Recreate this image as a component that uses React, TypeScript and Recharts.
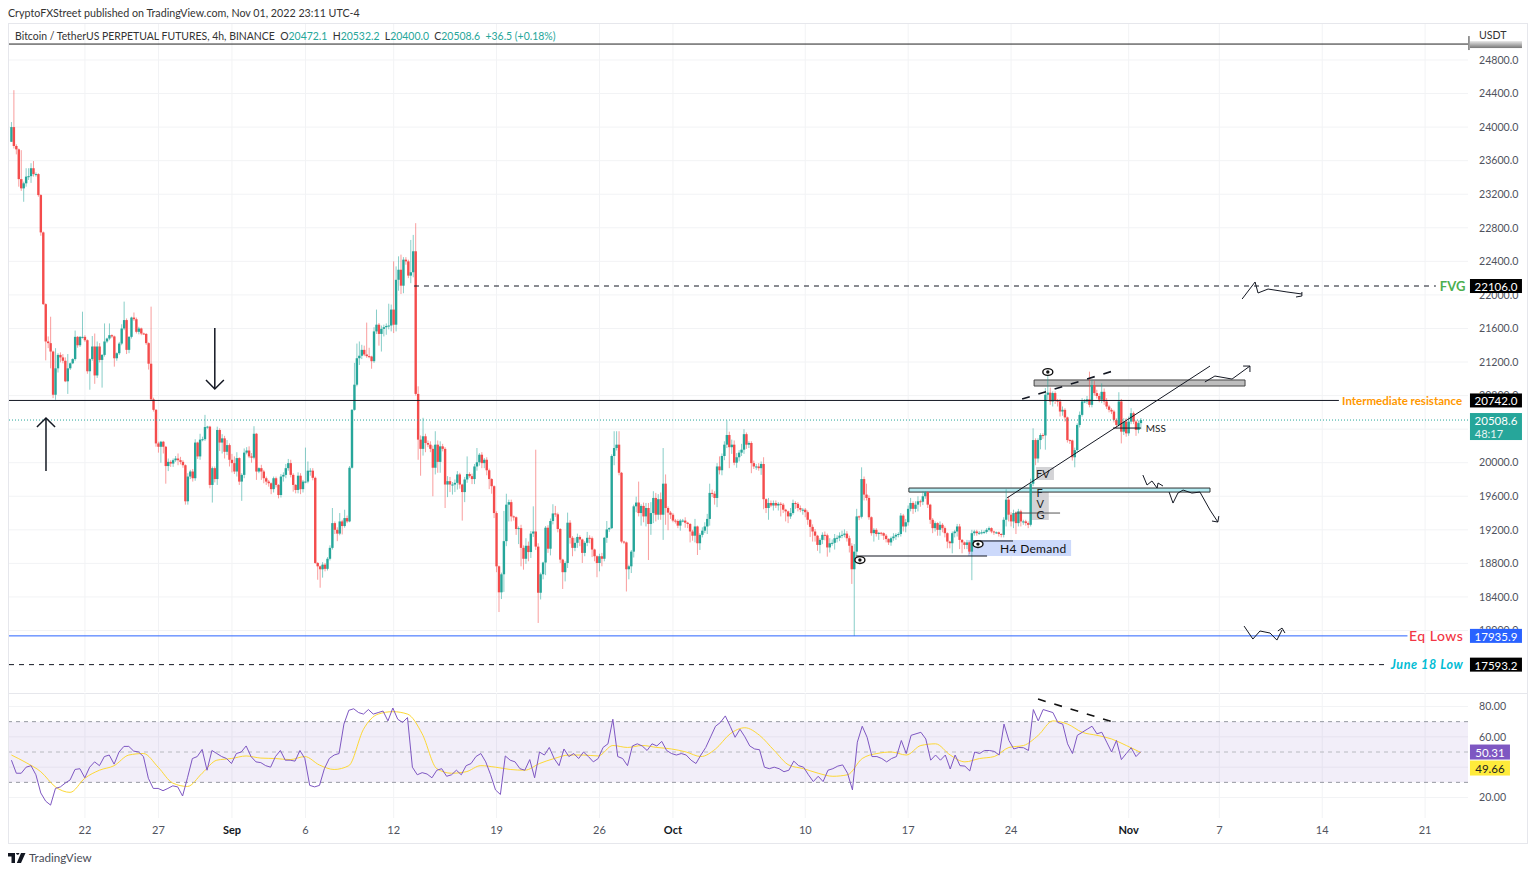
import React from "react";
import { ComposedChart, Bar, Line, XAxis, YAxis, CartesianGrid, ReferenceLine, ReferenceArea, ReferenceDot } from "recharts";

const FONT = "Lato, 'Open Sans', sans-serif";
const TEAL = "#26a69a";
const RED = "#f44c4c";
const GRID = "#f2f3f5";
const AXIS_TEXT = "#50535e";

const firstOpen = 23825;
const closes = [
  24000,23775,23735,23380,23270,23330,23410,23415,23510,23440,
  23440,23190,22745,21890,21445,21425,21325,20810,21125,21285,
  21255,21215,20970,21125,21185,21235,21500,21400,21500,21500,
  21460,21090,21235,21385,21040,21385,21225,21285,21445,21480,
  21520,21505,21245,21305,21420,21600,21700,21345,21500,21730,
  21710,21560,21600,21540,21535,21425,21180,20755,20630,20230,
  20190,20250,20190,19960,20010,19990,20030,20050,20030,20010,
  19970,19540,19835,19895,19815,20240,20075,20275,20280,20425,
  20430,19735,19935,19805,20390,20240,20290,20130,20210,20035,
  19995,19895,20055,19775,19855,20120,20145,20075,20060,20345,
  19895,19935,19895,19815,19775,19755,19685,19815,19735,19615,
  19835,19855,19935,19995,19855,19735,19675,19845,19685,19775,
  19775,19905,19905,19820,18805,18765,18730,18785,18735,18855,
  18985,19280,19200,19155,19300,19245,19340,19300,19940,20630,
  20930,21245,21275,21345,21290,21270,21265,21210,21565,21645,
  21535,21595,21615,21630,21635,21825,21645,22180,22300,22110,
  22420,22400,22230,22270,22520,20820,20275,20165,20315,20235,
  20215,20165,19940,20215,20010,20195,20165,19740,19780,19740,
  19740,19760,19860,19740,19650,19800,19865,19840,19805,19955,
  20005,20095,19995,20035,19910,19805,19720,19400,18765,18455,
  18670,19065,19500,19530,19360,19350,19210,19220,18985,18855,
  19010,18935,19155,19180,19000,18450,18670,18810,19225,18975,
  19305,19395,19385,19210,18845,18695,18805,19285,19105,18985,
  19045,19115,19085,18925,19045,19105,19100,18965,18885,18805,
  18885,18855,19105,19205,19220,20080,20175,20215,19880,19060,
  19050,18730,18765,18940,19480,19525,19400,19485,19360,19460,
  19270,19400,19580,19380,19565,19380,19750,19460,19405,19380,
  19310,19305,19250,19310,19310,19285,19270,19180,19130,19240,
  19040,19140,19190,19240,19330,19640,19630,19580,19955,19910,
  20080,20215,20330,20185,20215,20000,20065,20120,20155,20340,
  20215,20235,19995,19955,19955,19935,19985,19565,19460,19520,
  19490,19520,19490,19510,19500,19440,19420,19360,19400,19520,
  19510,19460,19440,19440,19410,19320,19235,19180,19130,19020,
  19080,19140,19135,18990,19040,19045,19100,19105,19130,19140,
  19155,19100,19010,18730,18940,19360,19355,19805,19620,19580,
  19350,19160,19200,19150,19165,19160,19130,19090,19050,19100,
  19120,19140,19150,19370,19240,19290,19450,19520,19450,19500,
  19540,19535,19600,19650,19500,19320,19220,19280,19200,19260,
  19220,19160,19060,19040,19160,19180,19240,19080,19050,19020,
  19050,18940,19160,19180,19160,19165,19170,19175,19200,19220,
  19180,19170,19170,19150,19140,19320,19560,19380,19300,19400,
  19280,19420,19300,19300,19280,19260,19750,20270,20050,20270,
  20330,20325,20810,20835,20730,20830,20740,20730,20610,20630,
  20540,20270,20265,20065,20150,20450,20570,20730,20730,20755,
  20690,20925,20830,20795,20750,20845,20730,20670,20630,20610,
  20510,20450,20730,20370,20490,20350,20490,20590,20490,20390,
  20472,20508.6,
];
const upperWicks = [
  60,440,20,10,345,20,100,95,60,85,
  20,10,10,10,10,60,315,10,240,20,
  30,40,40,170,10,10,75,10,10,300,
  20,10,10,125,155,60,40,10,215,10,
  140,10,10,10,20,50,220,20,10,10,
  60,20,20,10,10,10,10,680,20,10,
  20,10,10,10,40,20,20,30,60,40,
  20,10,40,20,30,40,10,70,30,145,
  10,10,20,20,40,20,50,30,60,20,
  70,80,70,10,20,50,40,50,40,90,
  10,10,40,20,20,20,10,20,20,10,
  30,30,50,50,40,20,10,40,30,20,
  405,110,30,30,15,10,10,30,20,20,
  30,180,20,30,100,20,100,30,20,10,
  260,175,170,60,50,380,100,10,50,180,
  20,40,30,30,260,60,575,160,160,180,
  30,30,20,385,195,335,90,50,220,30,
  30,40,40,160,50,60,30,20,60,50,
  30,40,40,20,10,30,210,20,30,30,
  170,20,30,20,30,20,10,10,20,10,
  20,360,130,30,30,10,10,20,40,30,
  90,50,30,300,975,40,20,10,20,30,
  30,110,90,20,10,10,20,120,30,20,
  60,40,20,10,20,70,30,20,10,10,
  30,40,10,100,10,20,200,160,160,10,
  10,10,20,20,20,70,250,20,40,60,
  60,130,80,60,60,80,425,110,20,20,
  20,20,20,20,20,40,10,10,20,90,
  10,20,40,50,60,110,40,30,40,120,
  30,40,175,40,60,50,50,30,70,60,
  20,20,20,30,30,40,30,80,10,60,
  30,30,30,20,20,20,10,10,60,40,
  20,20,30,20,20,20,10,30,30,10,
  20,30,40,20,60,40,50,30,40,50,
  50,30,30,30,90,90,10,140,30,130,
  30,10,20,20,10,10,10,20,10,20,
  40,20,20,30,20,40,40,60,20,40,
  60,20,60,10,10,10,20,20,10,40,
  20,20,10,10,20,20,30,30,10,10,
  30,10,40,20,20,20,30,20,20,20,
  10,10,10,10,10,30,125,40,30,40,
  20,30,20,20,20,20,60,140,20,20,
  20,20,80,250,60,20,20,20,30,40,
  20,10,10,10,30,20,40,40,30,40,
  330,60,50,40,30,100,40,40,20,20,
  20,20,110,30,40,40,60,60,20,20,
  30,24,
];
const lowerWicks = [
  0,30,60,90,30,160,40,40,80,30,
  30,20,40,10,225,60,200,40,60,50,
  60,30,10,150,20,10,20,30,20,20,
  20,30,220,20,100,30,30,330,20,20,
  20,20,100,30,20,20,20,50,40,20,
  20,20,30,20,10,20,70,20,20,40,
  70,190,80,210,60,40,40,20,60,30,
  30,40,40,30,40,30,30,40,20,20,
  20,40,210,40,70,100,130,80,40,80,
  110,30,60,40,230,40,20,20,60,20,
  100,20,100,60,40,40,60,40,30,40,
  30,60,40,30,30,80,40,40,60,40,
  20,20,60,30,10,160,220,100,30,20,
  20,20,50,90,20,100,20,20,10,10,
  10,20,80,40,20,20,20,90,20,30,
  140,210,90,90,40,70,100,80,130,100,
  90,40,30,90,60,20,240,320,80,110,
  30,40,340,80,130,130,30,280,150,90,
  120,90,80,50,340,120,40,20,60,60,
  50,40,60,60,60,120,90,60,70,235,
  80,210,60,200,60,40,70,180,220,130,
  60,110,70,40,40,360,80,60,150,50,
  80,40,30,40,40,200,110,60,70,100,
  40,60,80,120,40,40,60,90,60,170,
  100,90,30,60,30,10,110,30,30,20,
  20,265,120,80,70,70,40,150,70,120,
  430,130,120,80,60,60,300,200,210,50,
  20,30,30,60,20,60,50,130,60,80,
  140,80,30,30,90,80,40,80,110,50,
  60,50,40,250,80,30,60,50,40,50,
  50,40,120,30,40,30,80,120,60,140,
  20,60,30,60,140,40,120,80,30,20,
  60,40,30,60,60,60,120,120,70,70,
  100,50,60,110,60,30,80,50,40,30,
  30,40,80,175,795,40,40,20,70,30,
  30,30,100,30,70,30,50,40,30,40,
  30,40,30,30,60,70,40,30,60,40,
  80,60,40,30,40,50,60,40,70,70,
  50,50,80,60,120,50,60,110,130,50,
  50,30,340,30,30,20,20,20,20,20,
  20,30,20,30,30,30,80,80,60,80,
  130,40,60,40,30,40,20,30,80,50,
  110,40,170,60,40,60,40,60,60,50,
  50,30,40,40,120,30,30,20,20,30,
  30,30,30,30,30,40,40,30,30,30,
  30,40,20,140,40,40,30,30,30,70,
  40,72,
];

const rsiValues = [
  44.6,36,36,40,41,35,23,17.6,15,26,27,29.5,31.6,38.5,39,33,40,43.5,41,47,48,42,50,53.7,53.7,50.6,50,47,32.7,26,26,24.5,26,27.7,27,21,33,45.7,47,51.7,38,51,49,47,45.7,42.4,49,50,54,47,43.5,43,41,40,47,51,44.6,44.6,44,51,45.7,28,27,28,39,45.7,48,49,68.4,77.5,78.5,76,75,78,75,76,77,70.5,79,71.6,69.5,72.7,40,35,36.4,35.5,33,38,39,34,35,38,35,41,42.4,47,49,43.5,35,25,22,47.4,44.6,43.5,39,38,45,33,50,48,53,45.7,41,52,47,49,45.7,50,47,43.5,45.7,
  53,55.4,71.6,47,45.7,41,54,55.4,54,51,55.4,54,57,51,49,48,49,48,44.6,42.4,48,53,60,67,69.5,73.8,67,59.7,65,60,54,52,51.5,40,39,40,39,37,38,44,41,40,35,30.5,34,30.5,38,39,40.7,41.5,36,25,56.5,67,59.7,47,47,45.7,43.5,45.7,47,57.6,49,61,62,63,58.6,44.6,48,44.6,48,38.8,48,41,40.7,37.5,50,49,51,51,50.4,48,68.4,57.6,52,53,52.8,51,78,70.5,78,77,76,69.5,68.4,55.4,49,61,63,65,67,62,63,56.5,50,57.6,45,49,52.8,47,50.31,
];
const maValues = [
  48,43,37,27,23.4,32.7,38,41,48,49,40,29.5,27.3,36,44.6,45.7,47.4,46,45.7,45,47,41.4,38.5,41,65,75,76.6,75,62,39,36,37,41,40,38.5,38,42.4,45.7,48,48,47.4,
  54.3,53,54.3,53,52,50,47,52,62,66,61,51,41.4,39,36,34,35,45.7,49,50,48,54.3,55.4,48,43.5,45.7,47,53,54.3,61,70.5,68.4,63,61,58.6,54.3,49.66,
];

const dateTicks = [31, 61, 91, 121, 157, 199, 241, 271, 325, 367, 409, 457, 494, 536, 578];
const dateLabels = ["22", "27", "Sep", "6", "12", "19", "26", "Oct", "10", "17", "24", "Nov", "7", "14", "21"];
const boldDates = ["Sep", "Oct", "Nov"];
const priceTicks = [18000,18400,18800,19200,19600,20000,20400,20800,21200,21600,22000,22400,22800,23200,23600,24000,24400,24800];
const rsiTicks = [20, 40, 60, 80];
const coveredTicks = [20400, 40];

const X_DOMAIN: [number, number] = [0, 595.5];
const Y_DOMAIN: [number, number] = [17267, 25229];
const RSI_DOMAIN: [number, number] = [6.5, 88.9];
const TAG_X = 596.3;

const candles = closes.map((c, i) => {
  const o = i === 0 ? firstOpen : closes[i - 1];
  return {
    x: i + 1,
    open: o,
    close: c,
    range: [Math.min(o, c) - lowerWicks[i], Math.max(o, c) + upperWicks[i]],
  };
});
const rsiLine = rsiValues.map((v, k) => ({ x: 1 + (461 * k) / (rsiValues.length - 1), v }));
const maLine = maValues.map((v, k) => ({ x: 1 + (461 * k) / (maValues.length - 1), v }));

type Pt = [number, number];
const black = "#131722";
const strokes: { pts: Pt[]; w?: number; dash?: string; color?: string }[] = [
  { pts: [[15.1, 19901], [15.1, 20533]], w: 1.5 },
  { pts: [[11.4, 20426], [15.1, 20533], [18.8, 20426]], w: 1.5 },
  { pts: [[84, 21606], [84, 20879]], w: 1.5 },
  { pts: [[80.4, 20986], [84, 20879], [87.7, 20986]], w: 1.5 },
  { pts: [[165.3, 22106], [582.4, 22106]], dash: "5 5" },
  { pts: [[0, 20742], [542.8, 20742]] },
  { pts: [[0, 17935.9], [570.8, 17935.9]], color: "#2962ff" },
  { pts: [[0, 17593.2], [561.6, 17593.2]], dash: "5 5" },
  { pts: [[345.7, 18888], [399.2, 18888]] },
  { pts: [[393.5, 19067], [409.8, 19067]] },
  { pts: [[410.6, 19400], [429, 19400]], color: "#555" },
  { pts: [[450.6, 20413], [462, 20413]] },
  { pts: [[407.3, 19579], [490.2, 21152]] },
  { pts: [[413.5, 20759], [450.6, 21093]], w: 1.6, dash: "8 9" },
  { pts: [[503.3, 21951], [508.6, 22154], [509.8, 22023], [513.9, 22070], [521.6, 22035], [527.7, 22011]] },
  { pts: [[525.3, 21975], [527.7, 21987], [527.7, 22035]] },
  { pts: [[488.1, 20962], [492.2, 21033], [499.2, 20997], [506.5, 21152]] },
  { pts: [[503.7, 21152], [506.5, 21152], [506.5, 21081]] },
  { pts: [[462.8, 19853], [464.5, 19734], [466.5, 19782], [468.6, 19698], [469, 19758], [471, 19722]] },
  { pts: [[473.5, 19650], [475.1, 19519], [477.1, 19638], [479.2, 19674], [482.8, 19638], [486.1, 19650], [490.2, 19436], [493.4, 19293]] },
  { pts: [[491, 19305], [493.4, 19293], [493.8, 19364]] },
  { pts: [[504.1, 18053], [507.7, 17898], [510.6, 17994], [514.7, 17970], [517.5, 17886], [519.6, 18006]] },
  { pts: [[517.9, 17994], [519.6, 18029], [520.8, 17970]] },
];

const zones = [
  { x1: 391.4, x2: 433.5, y1: 18888, y2: 19078, fill: "#c9d7fb", stroke: "none", op: 0.95 },
  { x1: 416.7, x2: 424.4, y1: 19317, y2: 19698, fill: "#c8c8cc", stroke: "none", op: 0.8 },
  { x1: 419.2, x2: 426.5, y1: 19794, y2: 19949, fill: "#c8c8cc", stroke: "none", op: 0.8 },
  { x1: 418.4, x2: 504.5, y1: 20914, y2: 20986, fill: "#bdbdbd", stroke: "#444", op: 1 },
  { x1: 367.3, x2: 490.2, y1: 19650, y2: 19698, fill: "#b2ebf2", stroke: "#333", op: 1 },
];

const notes = [
  { x: 419.2, y: 19877, t: "FV", size: 11, color: "#222" },
  { x: 419.4, y: 19639, t: "F", size: 11, color: "#222" },
  { x: 419.4, y: 19519, t: "V", size: 11, color: "#222" },
  { x: 419.4, y: 19388, t: "G", size: 11, color: "#222" },
  { x: 404.5, y: 18983, t: "H4 Demand", size: 12, color: "#111", spacing: 0.3 },
  { x: 464, y: 20413, t: "MSS", size: 10, color: "#222" },
  { x: 584, y: 22106, t: "FVG", size: 13, color: "#4caf50", weight: 700 },
  { x: 544.1, y: 20742, t: "Intermediate resistance", size: 11.5, color: "#ff9800", weight: 700 },
  { x: 571.4, y: 17935.9, t: "Eq Lows", size: 14, color: "#f23645", weight: 500, spacing: 0.5 },
  { x: 564, y: 17593.2, t: "June 18 Low", size: 12.5, color: "#00bcd4", weight: 700, italic: true, spacing: 0.6 },
];

const eyes: Pt[] = [[424, 21081], [347.3, 18840], [395.5, 19030]];

const priceTags = [
  { y: 22106, t: "22106.0", fill: "#000" },
  { y: 20742, t: "20742.0", fill: "#000" },
  { y: 17935.9, t: "17935.9", fill: "#2962ff" },
  { y: 17593.2, t: "17593.2", fill: "#000" },
];

const CandleShape = (p: any) => {
  const { x, y, width, height, payload } = p;
  const [lo, hi] = payload.range;
  const at = (v: number) => y + ((hi - v) / (hi - lo)) * height;
  const up = payload.close >= payload.open;
  const color = up ? TEAL : RED;
  const cx = x + width / 2;
  const top = at(Math.max(payload.open, payload.close));
  const bot = at(Math.min(payload.open, payload.close));
  return (
    <g>
      <line x1={cx} x2={cx} y1={y} y2={y + height} stroke={color} strokeWidth={1} strokeOpacity={0.55} />
      <rect x={cx - 1.2} y={top} width={2.4} height={Math.max(bot - top, 1)} fill={color} />
    </g>
  );
};

const Tag = (p: any) => {
  const { cx, cy, t, fill } = p;
  return (
    <g>
      <rect x={cx} y={cy - 7} width={52} height={14} fill={fill} />
      <text x={cx + 26} y={cy + 0.5} fill="#fff" fontSize={11.5} fontFamily={FONT} textAnchor="middle" dominantBaseline="central">{t}</text>
    </g>
  );
};

const NowTag = (p: any) => {
  const { cx, cy } = p;
  return (
    <g>
      <rect x={cx} y={cy - 7} width={52} height={27} fill={TEAL} />
      <text x={cx + 26} y={cy} fill="#fff" fontSize={11.5} fontFamily={FONT} textAnchor="middle" dominantBaseline="central">20508.6</text>
      <text x={cx + 19} y={cy + 13} fill="#e6f5f3" fontSize={11} fontFamily={FONT} textAnchor="middle" dominantBaseline="central">48:17</text>
    </g>
  );
};

const ScaleTopTag = (p: any) => {
  const { cx, cy } = p;
  return (
    <g>
      <defs>
        <linearGradient id="fade" x1="0" x2="0" y1="0" y2="1">
          <stop offset="0" stopColor="#e8e8e8" />
          <stop offset="1" stopColor="#777" />
        </linearGradient>
      </defs>
      <rect x={cx} y={cy - 3} width={52} height={7} fill="url(#fade)" />
      <line x1={cx - 1} x2={cx - 1} y1={cy - 8} y2={cy + 6} stroke="#333" />
    </g>
  );
};

const Note = (p: any) => {
  const { cx, cy, n } = p;
  return (
    <text x={cx} y={cy} fill={n.color} fontSize={n.size} fontWeight={n.weight ?? 400} fontStyle={n.italic ? "italic" : "normal"} letterSpacing={n.spacing ?? 0} fontFamily={FONT} dominantBaseline="central">{n.t}</text>
  );
};

const Eye = (p: any) => (
  <g>
    <ellipse cx={p.cx} cy={p.cy} rx={5} ry={3.4} fill="#fff" stroke="#111" strokeWidth={1.4} />
    <circle cx={p.cx} cy={p.cy} r={1.7} fill="#111" />
  </g>
);

const RsiTag = (p: any) => {
  const { cx, cy, t, fill, color, dy } = p;
  return (
    <g>
      <rect x={cx} y={cy + dy - 7} width={40} height={15} fill={fill} />
      <text x={cx + 20} y={cy + dy + 0.5} fill={color} fontSize={11.5} fontFamily={FONT} textAnchor="middle" dominantBaseline="central">{t}</text>
    </g>
  );
};

const DateTick = (p: any) => {
  const { x, y, payload } = p;
  const label = dateLabels[dateTicks.indexOf(payload.value)];
  return (
    <text x={x} y={y} fill={boldDates.includes(label) ? "#131722" : AXIS_TEXT} fontWeight={boldDates.includes(label) ? 700 : 400} fontSize={11} fontFamily={FONT} textAnchor="middle" dominantBaseline="central">{label}</text>
  );
};

const tickStyle = { fontSize: 10.6, fill: AXIS_TEXT, fontFamily: FONT };
const fmt = (digits: number) => (v: number) => (coveredTicks.includes(v) ? "" : v.toFixed(digits));

export default function App() {
  return (
    <div style={{ position: "absolute", left: 0, top: 0, width: 1536, height: 874, background: "#fff", overflow: "hidden", fontFamily: FONT }}>
      <div style={{ position: "absolute", left: 8, top: 6, fontSize: 10.7, color: "#333", whiteSpace: "nowrap" }}>
        CryptoFXStreet published on TradingView.com, Nov 01, 2022 23:11 UTC-4
      </div>
      <div style={{ position: "absolute", left: 8, top: 23, width: 1518, height: 819, border: "1px solid #e6e7ec", boxSizing: "content-box" }} />
      <div style={{ position: "absolute", left: 8, top: 693, width: 1519, height: 1, background: "#e6e7ec" }} />

      <div style={{ position: "absolute", left: 0, top: 0 }}>
        <ComposedChart width={1536} height={693} data={candles} margin={{ top: 24, right: 8, bottom: 1, left: 9 }}>
          <CartesianGrid stroke={GRID} verticalValues={dateTicks} horizontalValues={priceTicks} />
          <XAxis hide type="number" dataKey="x" domain={X_DOMAIN} ticks={dateTicks} allowDataOverflow />
          <YAxis orientation="right" type="number" width={60} domain={Y_DOMAIN} ticks={priceTicks} interval={0} allowDataOverflow axisLine={false} tickLine={false} tickMargin={5} tick={tickStyle} tickFormatter={fmt(1)} />
          {zones.map((z, i) => (
            <ReferenceArea key={i} x1={z.x1} x2={z.x2} y1={z.y1} y2={z.y2} fill={z.fill} fillOpacity={z.op} stroke={z.stroke} strokeWidth={1} />
          ))}
          <ReferenceLine y={24990} stroke="#222" strokeWidth={1} />
          <ReferenceLine y={20508.6} stroke={TEAL} strokeWidth={1} strokeDasharray="1 2" />
          <Bar dataKey="range" barSize={2} shape={CandleShape} isAnimationActive={false} />
          {strokes.map((s, i) => (
            <Line key={i} data={s.pts.map(([x, p]) => ({ x, p }))} dataKey="p" type="linear" dot={false} activeDot={false} legendType="none" stroke={s.color ?? black} strokeWidth={s.w ?? 1} strokeDasharray={s.dash} isAnimationActive={false} />
          ))}
          {eyes.map(([x, y], i) => (
            <ReferenceDot key={i} x={x} y={y} r={4} shape={Eye} />
          ))}
          {notes.map((n, i) => (
            <ReferenceDot key={i} x={n.x} y={n.y} r={0} shape={(p: any) => <Note {...p} n={n} />} />
          ))}
        </ComposedChart>
      </div>

      <div style={{ position: "absolute", left: 0, top: 0 }}>
        <ComposedChart width={1536} height={693} data={candles} margin={{ top: 24, right: 68, bottom: 1, left: 9 }}>
          <XAxis hide type="number" dataKey="x" domain={X_DOMAIN} allowDataOverflow />
          <YAxis hide type="number" domain={Y_DOMAIN} allowDataOverflow />
          <ReferenceDot x={TAG_X} y={24990} r={0} ifOverflow="visible" shape={ScaleTopTag} />
          <ReferenceDot x={TAG_X} y={20508.6} r={0} ifOverflow="visible" shape={NowTag} />
          {priceTags.map((t, i) => (
            <ReferenceDot key={i} x={TAG_X} y={t.y} r={0} ifOverflow="visible" shape={(p: any) => <Tag {...p} t={t.t} fill={t.fill} />} />
          ))}
        </ComposedChart>
      </div>

      <div style={{ position: "absolute", left: 0, top: 693 }}>
        <ComposedChart width={1536} height={150} data={rsiLine} margin={{ top: 0, right: 8, bottom: 0, left: 9 }}>
          <CartesianGrid stroke={GRID} verticalValues={dateTicks} horizontalValues={rsiTicks} />
          <XAxis type="number" dataKey="x" domain={X_DOMAIN} ticks={dateTicks} interval={0} height={25} axisLine={false} tickLine={false} tick={DateTick} tickMargin={5} allowDataOverflow />
          <YAxis orientation="right" type="number" width={60} domain={RSI_DOMAIN} ticks={rsiTicks} interval={0} allowDataOverflow axisLine={false} tickLine={false} tickMargin={5} tick={tickStyle} tickFormatter={fmt(2)} />
          <ReferenceArea y1={30} y2={70} fill="#7e57c2" fillOpacity={0.1} stroke="none" />
          <ReferenceLine y={70} stroke="#9598a1" strokeDasharray="4 4" />
          <ReferenceLine y={50} stroke="#b8bac0" strokeDasharray="4 4" />
          <ReferenceLine y={30} stroke="#9598a1" strokeDasharray="4 4" />
          <Line data={maLine} dataKey="v" type="monotone" dot={false} activeDot={false} stroke="#fdd835" strokeWidth={1} isAnimationActive={false} />
          <Line data={rsiLine} dataKey="v" type="linear" dot={false} activeDot={false} stroke="#7e57c2" strokeWidth={1} isAnimationActive={false} />
          <Line data={[{ x: 420, v: 84.9 }, { x: 450.6, v: 69.8 }]} dataKey="v" dot={false} activeDot={false} stroke="#111" strokeWidth={1.6} strokeDasharray="8 9" isAnimationActive={false} />
        </ComposedChart>
      </div>

      <div style={{ position: "absolute", left: 0, top: 693 }}>
        <ComposedChart width={1536} height={150} data={rsiLine} margin={{ top: 0, right: 68, bottom: 25, left: 9 }}>
          <XAxis hide type="number" dataKey="x" domain={X_DOMAIN} allowDataOverflow />
          <YAxis hide type="number" domain={RSI_DOMAIN} allowDataOverflow />
          <ReferenceDot x={TAG_X} y={50.31} r={0} ifOverflow="visible" shape={(p: any) => <RsiTag {...p} t="50.31" fill="#7e57c2" color="#fff" dy={0} />} />
          <ReferenceDot x={TAG_X} y={49.66} r={0} ifOverflow="visible" shape={(p: any) => <RsiTag {...p} t="49.66" fill="#ffeb3b" color="#222" dy={15} />} />
        </ComposedChart>
      </div>

      <div style={{ position: "absolute", left: 15, top: 30, fontSize: 10.45, color: "#333", whiteSpace: "nowrap" }}>
        Bitcoin / TetherUS PERPETUAL FUTURES, 4h, BINANCE&nbsp;&nbsp;O<span style={{ color: TEAL }}>20472.1</span>&nbsp;&nbsp;H<span style={{ color: TEAL }}>20532.2</span>&nbsp;&nbsp;L<span style={{ color: TEAL }}>20400.0</span>&nbsp;&nbsp;C<span style={{ color: TEAL }}>20508.6</span>&nbsp;&nbsp;<span style={{ color: TEAL }}>+36.5 (+0.18%)</span>
      </div>
      <div style={{ position: "absolute", left: 1479, top: 29, fontSize: 10.6, color: "#333" }}>USDT</div>
      <div style={{ position: "absolute", left: 8, top: 851, display: "flex", alignItems: "center", gap: 3, fontSize: 11.6, color: "#4a4d57" }}>
        <svg width={18} height={10} viewBox="0 0 18 10"><path d="M0 0h7v10H3.5V3.5H0zM8 0a1.7 1.7 0 1 1 0 .01zM13 0h4.5L13 10H8.8z" fill="#131722" /></svg>
        TradingView
      </div>
    </div>
  );
}
